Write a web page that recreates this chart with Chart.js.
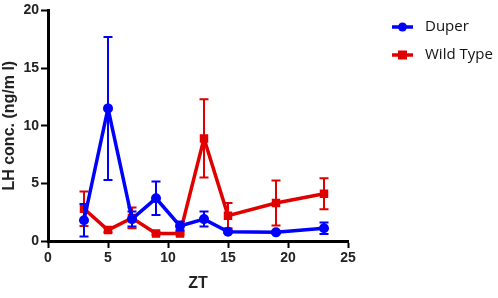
<!DOCTYPE html>
<html>
<head>
<meta charset="utf-8">
<script src="https://cdn.jsdelivr.net/npm/chart.js@4.4.0/dist/chart.umd.min.js"></script>
<style>
    html, body { margin: 0; padding: 0; background: #fff; }
    #wrap { width: 498px; height: 298px; }
</style>
</head>
<body>
<div id="wrap"><canvas id="lh-chart" width="498" height="298"></canvas></div>
<script>
// ZT sampling times
const zt = [3, 5, 7, 9, 11, 13, 15, 19, 23];

// LH concentration (ng/ml), means and SEM
const duper_mean = [1.8, 11.5, 1.9, 3.7, 1.3, 1.9, 0.8, 0.75, 1.1];
const duper_err = [1.4, 6.2, 0.65, 1.45, 0.4, 0.65, 0.1, 0.1, 0.5];
const wild_mean = [2.8, 0.95, 2.0, 0.65, 0.65, 8.9, 2.2, 3.3, 4.1];
const wild_err = [1.5, 0.2, 0.9, 0.1, 0.1, 3.4, 1.1, 1.95, 1.35];

const x_ticks = [0, 5, 10, 15, 20, 25];
const y_ticks = [0, 5, 10, 15, 20];

const blue = 'rgb(0, 0, 255)';
const red = 'rgb(225, 0, 0)';

const tick_font = { family: "'Liberation Sans Narrow', 'Liberation Sans', Arial, sans-serif", size: 14, weight: 'bold' };

// draw SEM whiskers through the chart scales
const error_bars = {
    id: 'error_bars',
    afterDatasetDraw(chart, args) {
        const ds = chart.data.datasets[args.index];
        if (!ds.err) return;
        const ctx = chart.ctx;
        const xs = chart.scales.x;
        const ys = chart.scales.y;
        ctx.save();
        ctx.strokeStyle = ds.borderColor;
        ctx.lineWidth = 2;
        ds.data.forEach((p, i) => {
            const px = xs.getPixelForValue(p.x);
            const top = ys.getPixelForValue(p.y + ds.err[i]);
            const bot = ys.getPixelForValue(Math.max(0, p.y - ds.err[i]));
            ctx.beginPath();
            ctx.moveTo(px, top); ctx.lineTo(px, bot);
            ctx.moveTo(px - 4.5, top); ctx.lineTo(px + 4.5, top);
            ctx.moveTo(px - 4.5, bot); ctx.lineTo(px + 4.5, bot);
            ctx.stroke();
        });
        ctx.restore();
    }
};

// legend on the right side with line + marker
const side_legend = {
    id: 'side_legend',
    afterDraw(chart) {
        const ctx = chart.ctx;
        const x0 = chart.chartArea.right + 44;
        ctx.save();
        chart.data.datasets.forEach((ds, i) => {
            const y = 27 + i * 28;
            ctx.strokeStyle = ds.borderColor;
            ctx.fillStyle = ds.borderColor;
            ctx.lineWidth = 3.5;
            ctx.beginPath();
            ctx.moveTo(x0, y); ctx.lineTo(x0 + 21, y);
            ctx.stroke();
            ctx.beginPath();
            if (ds.pointStyle == 'rect') {
                ctx.rect(x0 + 6, y - 4.5, 9, 9);
            } else {
                ctx.arc(x0 + 10.5, y, 4.5, 0, Math.PI * 2);
            }
            ctx.fill();
            ctx.fillStyle = '#111';
            ctx.font = "15px 'Open Sans', 'Liberation Sans', sans-serif";
            ctx.textBaseline = 'middle';
            ctx.fillText(ds.label, x0 + 33, y);
        });
        ctx.restore();
    }
};

onload = () => {
    new Chart(document.getElementById('lh-chart'), {
        type: 'line',
        data: {
            datasets: [
                {
                    label: 'Duper',
                    data: zt.map((t, i) => ({ x: t, y: duper_mean[i] })),
                    err: duper_err,
                    borderColor: blue,
                    backgroundColor: blue,
                    borderWidth: 3.5,
                    pointStyle: 'circle',
                    pointRadius: 5,
                    pointBorderWidth: 0,
                    tension: 0
                },
                {
                    label: 'Wild Type',
                    data: zt.map((t, i) => ({ x: t, y: wild_mean[i] })),
                    err: wild_err,
                    borderColor: red,
                    backgroundColor: red,
                    borderWidth: 3.5,
                    pointStyle: 'rect',
                    pointRadius: 6,
                    pointBorderWidth: 0,
                    tension: 0
                }
            ]
        },
        options: {
            responsive: false,
            animation: false,
            layout: { padding: { top: 0, right: 150, bottom: 0, left: 0 } },
            plugins: {
                legend: { display: false },
                tooltip: { enabled: false }
            },
            scales: {
                x: {
                    type: 'linear',
                    min: 0,
                    max: 25,
                    afterBuildTicks: (s) => { s.ticks = x_ticks.map(v => ({ value: v })); },
                    afterFit: (s) => { s.height = 57; },
                    grid: { display: true, drawOnChartArea: false, drawTicks: true, tickLength: 7, tickWidth: 2, tickColor: '#000' },
                    border: { display: true, width: 3, color: '#000' },
                    ticks: { color: '#222', font: tick_font, padding: 2, maxRotation: 0 },
                    title: {
                        display: true,
                        text: 'ZT',
                        color: '#222',
                        font: { family: "'Liberation Sans', Arial, sans-serif", size: 16, weight: 'bold' },
                        padding: { top: 0, bottom: 5 }
                    }
                },
                y: {
                    min: 0,
                    max: 20,
                    afterBuildTicks: (s) => { s.ticks = y_ticks.map(v => ({ value: v })); },
                    afterFit: (s) => { s.width = 48; },
                    grid: { display: true, drawOnChartArea: false, drawTicks: true, tickLength: 7, tickWidth: 2, tickColor: '#000' },
                    border: { display: true, width: 3, color: '#000' },
                    ticks: { color: '#222', font: tick_font, padding: 2 },
                    title: {
                        display: true,
                        text: 'LH conc. (ng/m l)',
                        color: '#222',
                        font: { family: "'Liberation Sans', Arial, sans-serif", size: 16, weight: 'bold' },
                        padding: { top: 0, bottom: 0 }
                    }
                }
            }
        },
        plugins: [error_bars, side_legend]
    });
}
</script>
</body>
</html>
